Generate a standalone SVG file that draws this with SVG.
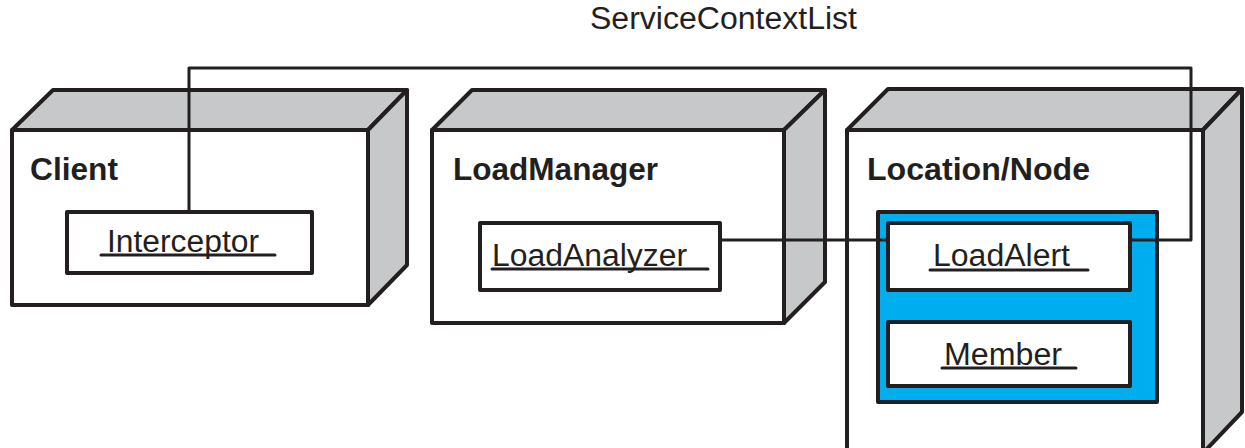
<svg xmlns="http://www.w3.org/2000/svg" width="1245" height="448" viewBox="0 0 1245 448">
  <style>
    .face { fill: #ffffff; stroke: #231f20; stroke-width: 4; stroke-linejoin: round; }
    .shade { fill: #c7c8ca; stroke: #231f20; stroke-width: 4; stroke-linejoin: round; }
    .part { fill: #ffffff; stroke: #231f20; stroke-width: 4; stroke-linejoin: round; }
    .pkg { fill: #00adee; stroke: #231f20; stroke-width: 4; stroke-linejoin: round; }
    .title { font-family: "Liberation Sans", Arial, sans-serif; font-weight: bold; font-size: 32px; fill: #231f20; }
    .name { font-family: "Liberation Sans", Arial, sans-serif; font-size: 31px; fill: #231f20; }
    .uline { stroke: #231f20; stroke-width: 3; stroke-linecap: round; }
    .wire { fill: none; stroke: #231f20; stroke-width: 3; stroke-linejoin: round; }
  </style>

  <text class="name" x="590" y="29" textLength="267" lengthAdjust="spacingAndGlyphs">ServiceContextList</text>

  <!-- Client node -->
  <g id="client">
    <polygon class="shade" points="12,130 53,90 407,90 368,130"/>
    <polygon class="shade" points="368,130 407,90 407,265 368,305"/>
    <rect class="face" x="12" y="130" width="356" height="175"/>
    <text class="title" x="30" y="180" textLength="88" lengthAdjust="spacingAndGlyphs">Client</text>
    <g id="interceptor">
      <rect class="part" x="67" y="212" width="245" height="61"/>
      <text class="name" x="107" y="252" textLength="152" lengthAdjust="spacingAndGlyphs">Interceptor</text>
      <line class="uline" x1="101" y1="255" x2="275" y2="255"/>
    </g>
  </g>

  <!-- LoadManager node -->
  <g id="loadmanager">
    <polygon class="shade" points="432,130 472,90 825,90 784,130"/>
    <polygon class="shade" points="784,130 825,90 825,282 784,323"/>
    <rect class="face" x="432" y="130" width="352" height="193"/>
    <text class="title" x="453" y="180" textLength="205" lengthAdjust="spacingAndGlyphs">LoadManager</text>
    <g id="loadanalyzer">
      <rect class="part" x="480" y="223" width="240" height="67"/>
      <text class="name" x="492" y="266" textLength="195" lengthAdjust="spacingAndGlyphs">LoadAnalyzer</text>
      <line class="uline" x1="492" y1="269" x2="708" y2="269"/>
    </g>
  </g>

  <!-- Location/Node node -->
  <g id="location">
    <polygon class="shade" points="847,130 888,89 1242,89 1203,130"/>
    <polygon class="shade" points="1203,130 1242,89 1242,412 1203,453"/>
    <rect class="face" x="847" y="130" width="356" height="330"/>
    <text class="title" x="867" y="180" textLength="223" lengthAdjust="spacingAndGlyphs">Location/Node</text>
    <rect class="pkg" x="878" y="212" width="279" height="190"/>
    <g id="loadalert">
      <rect class="part" x="888" y="223" width="242" height="67"/>
      <text class="name" x="933" y="266" textLength="137" lengthAdjust="spacingAndGlyphs">LoadAlert</text>
      <line class="uline" x1="930" y1="270" x2="1088" y2="270"/>
    </g>
    <g id="member">
      <rect class="part" x="888" y="322" width="242" height="64"/>
      <text class="name" x="944" y="365" textLength="118" lengthAdjust="spacingAndGlyphs">Member</text>
      <line class="uline" x1="942" y1="368" x2="1076" y2="368"/>
    </g>
  </g>

  <!-- Connectors -->
  <g id="connectors">
    <polyline class="wire" points="189,212 189,68 1191,68 1191,240 1130,240"/>
    <line class="wire" x1="720" y1="240" x2="888" y2="240"/>
  </g>
</svg>
